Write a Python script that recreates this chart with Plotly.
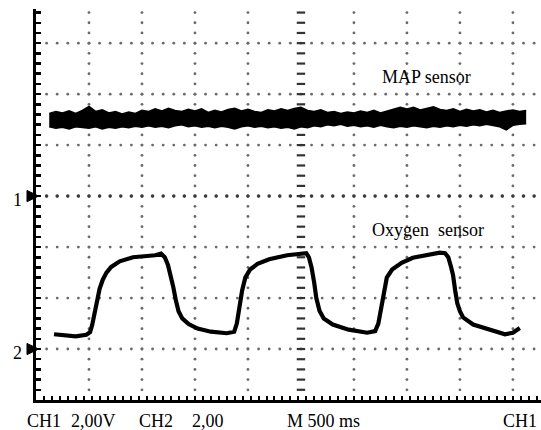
import numpy as np
import plotly.graph_objects as go

# ---- data (in screen divisions) ----
map_x = [0.25, 0.375, 0.5, 0.625, 0.75, 0.875, 1.0, 1.125,
         1.25, 1.375, 1.5, 1.625, 1.75, 1.875, 2.0, 2.125,
         2.25, 2.375, 2.5, 2.625, 2.75, 2.875, 3.0, 3.125,
         3.25, 3.375, 3.5, 3.625, 3.75, 3.875, 4.0, 4.125,
         4.25, 4.375, 4.5, 4.625, 4.75, 4.875, 5.0, 5.125,
         5.25, 5.375, 5.5, 5.625, 5.75, 5.875, 6.0, 6.125,
         6.25, 6.375, 6.5, 6.625, 6.75, 6.875, 7.0, 7.125,
         7.25, 7.375, 7.5, 7.625, 7.75, 7.875, 8.0, 8.125,
         8.25, 8.375, 8.5, 8.625, 8.75, 8.875, 9.0, 9.125,
         9.25]
map_hi = [5.62, 5.66, 5.63, 5.67, 5.62, 5.68, 5.76, 5.66,
          5.69, 5.63, 5.66, 5.61, 5.65, 5.62, 5.68, 5.66,
          5.71, 5.67, 5.72, 5.68, 5.66, 5.70, 5.67, 5.71,
          5.64, 5.68, 5.65, 5.70, 5.72, 5.67, 5.70, 5.66,
          5.64, 5.69, 5.67, 5.71, 5.68, 5.72, 5.74, 5.68,
          5.66, 5.69, 5.64, 5.66, 5.62, 5.65, 5.63, 5.67,
          5.64, 5.68, 5.63, 5.67, 5.70, 5.74, 5.71, 5.74,
          5.69, 5.72, 5.75, 5.70, 5.68, 5.71, 5.66, 5.70,
          5.67, 5.69, 5.65, 5.68, 5.64, 5.67, 5.69, 5.66,
          5.68]
map_lo = [5.36, 5.33, 5.35, 5.32, 5.36, 5.34, 5.33, 5.36,
          5.32, 5.35, 5.33, 5.36, 5.34, 5.37, 5.35, 5.38,
          5.35, 5.37, 5.34, 5.38, 5.40, 5.36, 5.38, 5.35,
          5.37, 5.34, 5.37, 5.35, 5.32, 5.36, 5.38, 5.35,
          5.37, 5.34, 5.36, 5.33, 5.35, 5.32, 5.36, 5.34,
          5.38, 5.36, 5.40, 5.38, 5.41, 5.37, 5.39, 5.36,
          5.38, 5.35, 5.39, 5.36, 5.34, 5.37, 5.35, 5.38,
          5.36, 5.34, 5.37, 5.35, 5.38, 5.36, 5.39, 5.37,
          5.40, 5.38, 5.41, 5.39, 5.36, 5.30, 5.39, 5.41,
          5.42]

o2_x = [0.34, 0.55, 0.75, 0.95, 1.02, 1.06, 1.10, 1.15, 1.20, 1.26, 1.33, 1.42, 1.58, 1.83, 2.05, 2.25,
        2.36, 2.43, 2.49, 2.54, 2.59, 2.64, 2.69, 2.76, 2.88, 3.05, 3.30, 3.60, 3.74, 3.79, 3.84, 3.89,
        3.95, 4.04, 4.18, 4.40, 4.74, 5.00, 5.10, 5.15, 5.20, 5.25, 5.29, 5.35, 5.43, 5.60, 5.90, 6.25,
        6.40, 6.46, 6.51, 6.56, 6.62, 6.72, 6.90, 7.11, 7.43, 7.62, 7.72, 7.78, 7.83, 7.87, 7.91, 7.95,
        8.00, 8.06, 8.25, 8.55, 8.85, 9.00, 9.13]
o2_y = [1.29, 1.26, 1.25, 1.28, 1.33, 1.47, 1.70, 1.96, 2.18, 2.36, 2.50, 2.61, 2.72, 2.80, 2.82, 2.84,
        2.87, 2.80, 2.65, 2.45, 2.22, 1.95, 1.74, 1.60, 1.49, 1.40, 1.34, 1.31, 1.34, 1.50, 1.85, 2.15,
        2.40, 2.56, 2.67, 2.76, 2.84, 2.88, 2.88, 2.80, 2.60, 2.30, 2.00, 1.75, 1.60, 1.48, 1.38, 1.32,
        1.35, 1.50, 1.80, 2.15, 2.40, 2.56, 2.69, 2.79, 2.86, 2.89, 2.88, 2.80, 2.62, 2.45, 2.15, 1.90,
        1.74, 1.62, 1.48, 1.38, 1.29, 1.32, 1.41]

grid_v = [1, 2, 3, 4, 6, 7, 8, 9]
grid_h = [1, 2, 3, 5, 6, 7]
center_v = 5
center_h = 4

channel_labels = ["1", "2"]
channel_levels = [4, 1]

bottom_labels = ["CH1", "2,00V", "CH2", "2,00", "M 500 ms", "CH1"]
bottom_label_x = [-0.21, 0.63, 1.91, 2.91, 4.70, 8.77]

XMAX = 9.53
YMAX = 7.67


def px(d):
    return d / XMAX


def py(d):
    return d / YMAX


fig = go.Figure()

# graticule dots
hx = np.arange(0.2, XMAX, 0.2)
vy = np.arange(0.2, YMAX, 0.2)
gx, gy = [], []
for g in grid_h:
    gx += list(hx); gy += [g] * len(hx)
for g in grid_v:
    gx += [g] * len(vy); gy += list(vy)
fig.add_trace(go.Scatter(x=gx, y=gy, mode="markers",
                         marker=dict(size=2.8, color="#6a6a6a"), hoverinfo="skip"))
fig.add_trace(go.Scatter(x=list(hx), y=[center_h] * len(hx), mode="markers",
                         marker=dict(size=3.6, color="#3a3a3a"), hoverinfo="skip"))
fig.add_trace(go.Scatter(x=[center_v] * len(vy), y=list(vy), mode="markers",
                         marker=dict(symbol="line-ew", size=6, color="#333",
                                     line=dict(width=2.2, color="#333")), hoverinfo="skip"))

# MAP sensor band
fig.add_trace(go.Scatter(x=map_x, y=map_lo, mode="lines",
                         line=dict(color="black", width=1.6), hoverinfo="skip"))
fig.add_trace(go.Scatter(x=map_x, y=map_hi, mode="lines", fill="tonexty",
                         fillcolor="black", line=dict(color="black", width=1.6), hoverinfo="skip"))

# Oxygen sensor
fig.add_trace(go.Scatter(x=o2_x, y=o2_y, mode="lines",
                         line=dict(color="black", width=4.2), hoverinfo="skip"))

serif = "Liberation Serif, Times New Roman, serif"
ann = []
ann.append(dict(x=7.36, y=6.33, xref="x", yref="y", text="MAP sensor", showarrow=False,
                font=dict(family=serif, size=18, color="black")))
ann.append(dict(x=7.40, y=3.33, xref="x", yref="y", text="Oxygen  sensor", showarrow=False,
                font=dict(family=serif, size=18, color="black")))

shapes = []
for lab, lev in zip(channel_labels, channel_levels):
    ann.append(dict(x=px(-0.34), y=py(lev - 0.07), xref="paper", yref="paper", text=lab,
                    showarrow=False, xanchor="center", yanchor="middle",
                    font=dict(family=serif, size=18, color="black")))
    path = "M {},{} L {},{} L {},{} Z".format(px(-0.17), py(lev + 0.11),
                                             px(0.05), py(lev),
                                             px(-0.17), py(lev - 0.11))
    shapes.append(dict(type="path", path=path, xref="paper", yref="paper",
                       fillcolor="black", line=dict(color="black", width=1)))

for t, xx in zip(bottom_labels, bottom_label_x):
    ann.append(dict(x=px(xx), y=py(-0.42), xref="paper", yref="paper", text=t,
                    showarrow=False, xanchor="left", yanchor="middle",
                    font=dict(family=serif, size=18, color="black")))

fig.update_layout(
    width=541, height=430, autosize=False,
    margin=dict(l=36, r=0, t=9, b=30, pad=0),
    paper_bgcolor="white", plot_bgcolor="white",
    showlegend=False,
    annotations=ann,
    shapes=shapes,
    xaxis=dict(range=[0, XMAX], showgrid=False, zeroline=False, showline=True,
               linecolor="black", linewidth=3, ticks="inside", tickmode="linear",
               tick0=0, dtick=0.15, ticklen=4, tickwidth=2, tickcolor="black",
               showticklabels=False, fixedrange=True),
    yaxis=dict(range=[0, YMAX], showgrid=False, zeroline=False, showline=True,
               linecolor="black", linewidth=3.5, ticks="inside", tickmode="linear",
               tick0=0, dtick=0.2, ticklen=5, tickwidth=2.5, tickcolor="black",
               showticklabels=False, fixedrange=True),
)

fig.write_html("out.html", config={"displayModeBar": False, "staticPlot": True},
               post_script="document.body.style.margin='0';document.body.style.overflow='hidden';")
